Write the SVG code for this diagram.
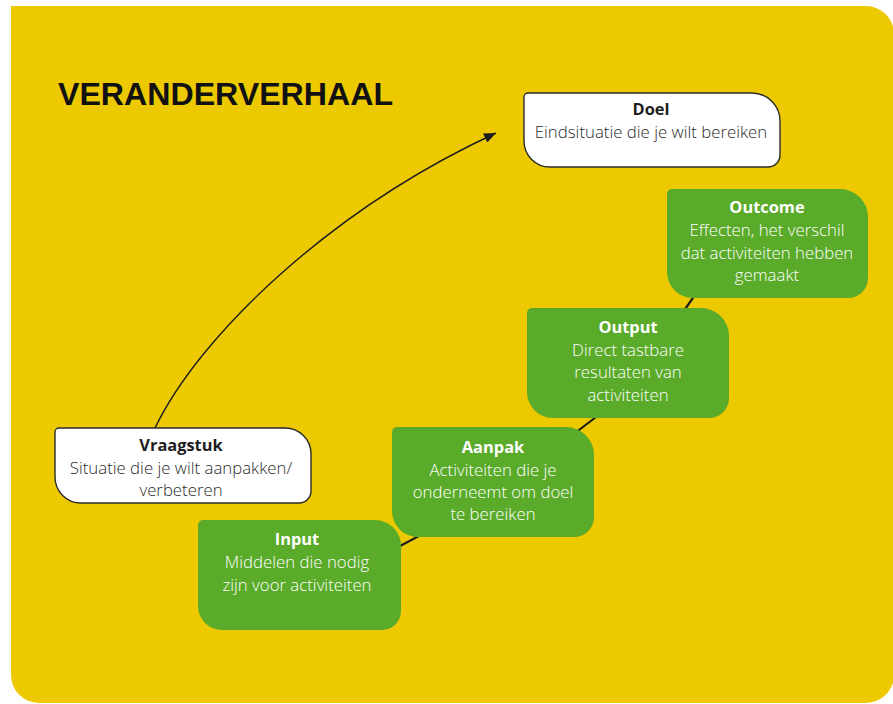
<svg xmlns="http://www.w3.org/2000/svg" width="893" height="704" viewBox="0 0 893 704">
  <style>
    .bg { fill: #ECC900; }
    .white { fill: #FFFFFF; stroke: #2a2a2a; stroke-width: 1.4; }
    .green { fill: #5AAB29; }
    .title { font-family: "Liberation Sans", Arial, sans-serif; font-weight: 700; font-size: 32px; fill: #111111; }
    .t { font-family: "Open Sans", "Noto Sans", sans-serif; font-size: 16.8px; text-anchor: middle; font-weight: 300; }
    .hd { font-weight: 700; font-size: 16.4px; }
    .dark { fill: #2b2b2b; }
    .dark.hd { fill: #1e1e1e; }
    .light { fill: #FFFFFF; }
    .conn { fill: none; stroke: #1e1e1e; }
  </style>
  <defs>
    <marker id="arrow" viewBox="0 0 12 10" refX="12" refY="5" markerWidth="12" markerHeight="10" markerUnits="userSpaceOnUse" orient="auto">
      <path d="M0,0 L12,5 L0,10 z" fill="#1e1e1e"/>
    </marker>
  </defs>

  <path class="bg" d="M11,6 H866 A28,28 0 0 1 894,34 V675 A28,28 0 0 1 866,703 H39 A28,28 0 0 1 11,675 Z"/>

  <text class="title" x="58" y="105" textLength="335" lengthAdjust="spacingAndGlyphs">VERANDERVERHAAL</text>

  <g id="connectors">
    <path class="conn" stroke-width="1.4" d="M155,428 C200,335 330,210 496,133" marker-end="url(#arrow)"/>
    <path class="conn" stroke-width="2.2" d="M395,549 L400,546 C480,505 560,445 600,414 C640,383 665,336 700,288"/>
  </g>

  <g id="doel">
    <path class="white" d="M528,93 H752 A28,28 0 0 1 780,121 V155 A12,12 0 0 1 768,167 H550 A26,26 0 0 1 524,141 V97 A4,4 0 0 1 528,93 Z"/>
    <text class="t dark hd" x="651" y="115">Doel</text>
    <text class="t dark" x="651" y="138">Eindsituatie die je wilt bereiken</text>
  </g>

  <g id="outcome">
    <path class="green" d="M672,189 H840 A28,28 0 0 1 868,217 V278 A20,20 0 0 1 848,298 H693 A26,26 0 0 1 667,272 V194 A5,5 0 0 1 672,189 Z"/>
    <text class="t light hd" x="767" y="213">Outcome</text>
    <text class="t light" x="767" y="236">Effecten, het verschil</text>
    <text class="t light" x="767" y="259">dat activiteiten hebben</text>
    <text class="t light" x="767" y="281">gemaakt</text>
  </g>

  <g id="output">
    <path class="green" d="M532,308 H701 A28,28 0 0 1 729,336 V398 A20,20 0 0 1 709,418 H553 A26,26 0 0 1 527,392 V313 A5,5 0 0 1 532,308 Z"/>
    <text class="t light hd" x="628" y="333">Output</text>
    <text class="t light" x="628" y="356">Direct tastbare</text>
    <text class="t light" x="628" y="378">resultaten van</text>
    <text class="t light" x="628" y="401">activiteiten</text>
  </g>

  <g id="aanpak">
    <path class="green" d="M397,427 H566 A28,28 0 0 1 594,455 V517 A20,20 0 0 1 574,537 H418 A26,26 0 0 1 392,511 V432 A5,5 0 0 1 397,427 Z"/>
    <text class="t light hd" x="493" y="453">Aanpak</text>
    <text class="t light" x="493" y="476">Activiteiten die je</text>
    <text class="t light" x="493" y="498">onderneemt om doel</text>
    <text class="t light" x="493" y="520">te bereiken</text>
  </g>

  <g id="input">
    <path class="green" d="M203,520 H375 A26,26 0 0 1 401,546 V611 A19,19 0 0 1 382,630 H222 A24,24 0 0 1 198,606 V525 A5,5 0 0 1 203,520 Z"/>
    <text class="t light hd" x="297" y="545">Input</text>
    <text class="t light" x="297" y="568">Middelen die nodig</text>
    <text class="t light" x="297" y="591">zijn voor activiteiten</text>
  </g>

  <g id="vraagstuk">
    <path class="white" d="M59,428 H285 A26,26 0 0 1 311,454 V491 A12,12 0 0 1 299,503 H81 A26,26 0 0 1 55,477 V432 A4,4 0 0 1 59,428 Z"/>
    <text class="t dark hd" x="181" y="451">Vraagstuk</text>
    <text class="t dark" x="181" y="474">Situatie die je wilt aanpakken/</text>
    <text class="t dark" x="181" y="496">verbeteren</text>
  </g>
</svg>
